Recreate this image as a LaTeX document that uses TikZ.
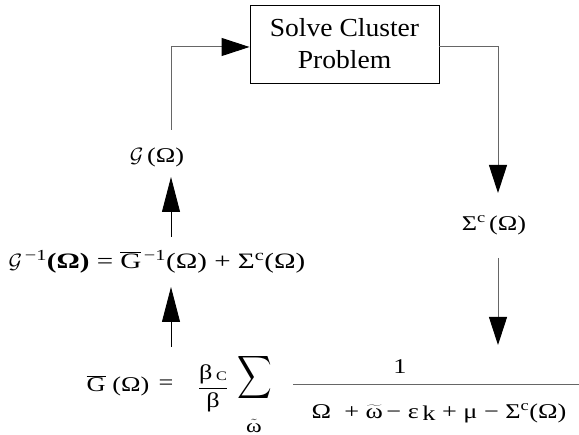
\documentclass[tikz,border=0pt]{standalone}
\usepackage{fontspec}
\usepackage{graphicx}
\setmainfont{Liberation Serif}
\newfontfamily\wide[FakeStretch=1.25]{Liberation Serif}
\newfontfamily\wider[FakeStretch=1.32]{Liberation Serif}
\newfontfamily\boxfont[FakeStretch=1.06]{Liberation Serif}
\usetikzlibrary{arrows.meta}
\tikzset{
  conn/.style={draw=black!60, line width=1pt},
  vline/.style={draw=black, line width=0.9pt},
  tipshort/.style={-{Triangle[length=28pt,width=18pt,black]}},
  tiplong/.style={-{Triangle[length=35pt,width=18pt,black]}},
  lbl/.style={inner sep=0pt, font=\fontsize{21}{25}\wide},
  boxnode/.style={draw, line width=0.9pt, minimum width=189pt, minimum height=78pt, align=center, font=\fontsize{26}{32}\boxfont}
}
\begin{document}
\begin{tikzpicture}[x=1pt,y=-1pt]
\useasboundingbox (0,0) rectangle (579,435);
\node[boxnode] (solve) at (344.5,44) {Solve Cluster\\Problem};
\node[lbl] (g) at (157,157) {$\mathcal{G}$\,(Ω)};
\node[lbl, font=\fontsize{22}{26}\wider] (ginv) at (157,262) {$\mathcal{G}$\textsuperscript{\,−1}\textbf{(Ω)} = $\overline{\mbox{G}}$\textsuperscript{\,−1}(Ω) + Σ\textsuperscript{c}(Ω)};
\node[lbl] (sig) at (494,225) {Σ\textsuperscript{c}\,(Ω)};
\coordinate (gtop) at (171,130);
\coordinate (sigin) at (498,193);
\coordinate (sigout) at (498,258);
\coordinate (eqin) at (498,345);
\coordinate (a1s) at (171,237);
\coordinate (a1e) at (171,177);
\coordinate (a2s) at (171,347);
\coordinate (a2e) at (171,287);
\draw[conn, tipshort] (gtop) |- ([yshift=-3pt]solve.west);
\draw[conn, tipshort] ([yshift=-3pt]solve.east) -| (sigin);
\draw[conn, tipshort] (sigout) -- (eqin);
\draw[vline, tiplong] (a1s) -- (a1e);
\draw[vline, tiplong] (a2s) -- (a2e);
% bottom equation
\node[lbl] (lhs) at (118,386) {$\overline{\mbox{G}}$\ (Ω)};
\node[lbl] (eq) at (166,385) {=};
\node[lbl] (bc) at (213,388) {$\displaystyle\frac{\mbox{β\,\raisebox{-0.2ex}{\fontsize{13}{13}\selectfont C}}}{\mbox{β}}$};
\node[inner sep=0pt] (sum) at (255,378) {\scalebox{2.4}[3]{$\displaystyle\sum$}};
\node[lbl, font=\fontsize{19}{21}\wide] (om) at (254,426) {$\tilde{\mbox{ω}}$};
\node[lbl] (one) at (400,367) {1};
\node[lbl] (den) at (439,413) {Ω\ \ + $\widetilde{\mbox{ω}}$\,− ε\,\raisebox{-0.3ex}{k} + μ − Σ\textsuperscript{c}(Ω)};
\coordinate (barL) at (293,385);
\coordinate (barR) at (579,385);
\draw[conn] (barL) -- (barR);
\end{tikzpicture}
\end{document}
